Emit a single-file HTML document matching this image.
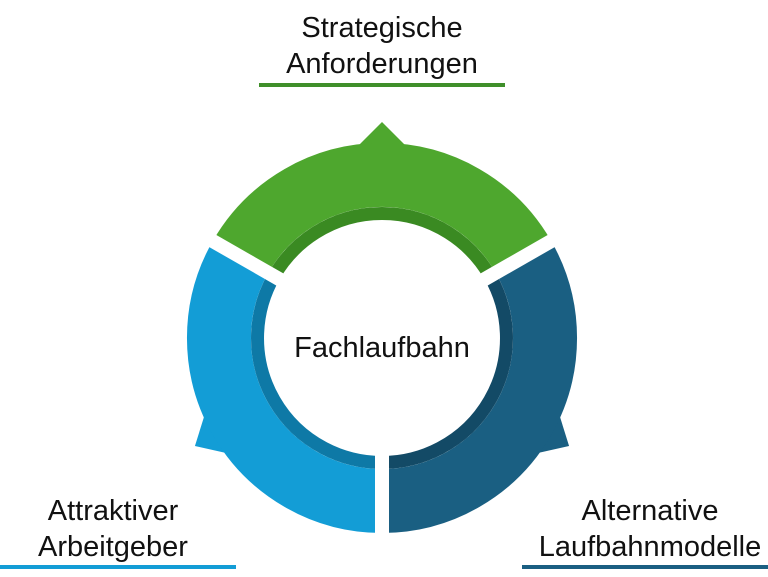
<!DOCTYPE html>
<html><head><meta charset="utf-8"><style>
html,body{margin:0;padding:0;background:#fff;}
body{width:768px;height:577px;overflow:hidden;position:relative;font-family:"Liberation Sans",sans-serif;}
.t{position:absolute;text-align:center;font-size:29px;line-height:36px;color:#111;}
</style></head><body>
<svg width="768" height="577" style="position:absolute;left:0;top:0">
  <g>
    <polygon points="382,122 358,146 406,146" fill="#4ea72e"/>
    <polygon points="0,-216 -24,-190 24,-190" fill="#139dd6" transform="translate(382,338) rotate(-120)"/>
    <polygon points="0,-216 -24,-190 24,-190" fill="#1a5f82" transform="translate(382,338) rotate(120)"/>
  </g>
  <path d="M240.8,256.5 A163,163 0 0 1 523.2,256.5" fill="none" stroke="#4ea72e" stroke-width="64"/>
  <path d="M523.2,256.5 A163,163 0 0 1 382,501" fill="none" stroke="#1a5f82" stroke-width="64"/>
  <path d="M382,501 A163,163 0 0 1 240.8,256.5" fill="none" stroke="#139dd6" stroke-width="64"/>
  <path d="M274.2,275.75 A124.5,124.5 0 0 1 489.8,275.75" fill="none" stroke="#3a8a22" stroke-width="13"/>
  <path d="M489.8,275.75 A124.5,124.5 0 0 1 382,462.5" fill="none" stroke="#134a66" stroke-width="13"/>
  <path d="M382,462.5 A124.5,124.5 0 0 1 274.2,275.75" fill="none" stroke="#0e79a6" stroke-width="13"/>
  <g stroke="#fff" stroke-width="14">
    <line x1="382" y1="440" x2="382" y2="560"/>
    <line x1="293" y1="287" x2="190" y2="228"/>
    <line x1="471" y1="287" x2="574" y2="228"/>
  </g>
  <rect x="259" y="83" width="246" height="4" fill="#3f8f2a"/>
  <rect x="0" y="565" width="236" height="4" fill="#139dd6"/>
  <rect x="522" y="565" width="246" height="4" fill="#1a5f82"/>
</svg>
<div class="t" style="left:182px;top:10px;width:400px;">Strategische<br>Anforderungen</div>
<div class="t" style="left:232px;top:330px;width:300px;">Fachlaufbahn</div>
<div class="t" style="left:-20px;top:493px;width:266px;">Attraktiver<br>Arbeitgeber</div>
<div class="t" style="left:500px;top:493px;width:300px;">Alternative<br>Laufbahnmodelle</div>
</body></html>
